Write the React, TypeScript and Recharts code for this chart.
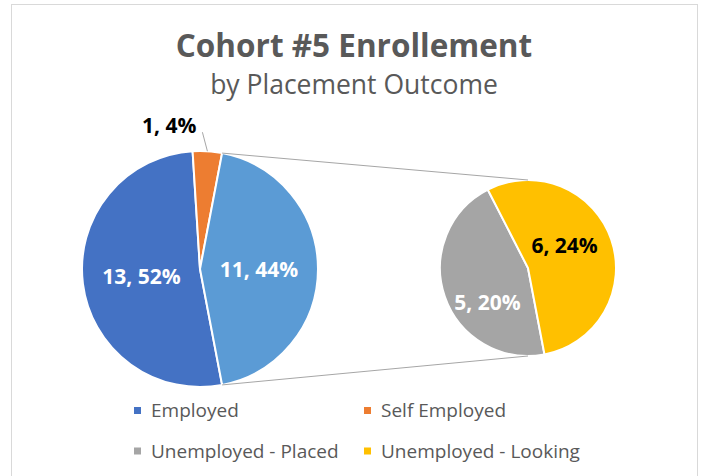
import React from "react";
import { PieChart, Pie, Cell } from "recharts";

const TITLE = "Cohort #5 Enrollement";
const SUBTITLE = "by Placement Outcome";

const MAIN_NAMES = ["Employed", "Self Employed", "Other"];
const MAIN_VALUES = [13, 1, 11];
const MAIN_COLORS = ["#4472C4", "#ED7D31", "#5B9BD5"];
const MAIN_LABEL_INSIDE = [true, false, true];
const MAIN_LABEL_COLORS = ["#FFFFFF", "#000000", "#FFFFFF"];

const SUB_NAMES = ["Unemployed - Placed", "Unemployed - Looking"];
const SUB_VALUES = [5, 6];
const SUB_COLORS = ["#A5A5A5", "#FFC000"];
const SUB_LABEL_COLORS = ["#FFFFFF", "#000000"];
const SUB_LABEL_NUDGE = [
  [1, 20],
  [-5, -9],
];

const LEGEND_NAMES = ["Employed", "Self Employed", "Unemployed - Placed", "Unemployed - Looking"];
const LEGEND_COLORS = ["#4472C4", "#ED7D31", "#A5A5A5", "#FFC000"];

const TOTAL = MAIN_VALUES.reduce((a, b) => a + b, 0);
const mainData = MAIN_NAMES.map((name, i) => ({ name, value: MAIN_VALUES[i] }));
const subData = SUB_NAMES.map((name, i) => ({ name, value: SUB_VALUES[i] }));

const W = 701;
const H = 476;
const MAIN_CX = 200;
const MAIN_CY = 269;
const MAIN_R = 118;
const SUB_CX = 528;
const SUB_CY = 268;
const SUB_R = 88;
const START_ANGLE = -79.2;
const END_ANGLE = -439.2;

const FONT = "'Open Sans', sans-serif";
const TEXT_GREY = "#595959";
const LINE_GREY = "#A6A6A6";
const RAD = Math.PI / 180;

const polar = (cx: number, cy: number, r: number, a: number) => ({
  x: cx + r * Math.cos(-a * RAD),
  y: cy + r * Math.sin(-a * RAD),
});

const pctText = (v: number) => `${v}, ${Math.round((v / TOTAL) * 100)}%`;

const renderMainLabel = (p: any) => {
  const { cx, cy, midAngle, outerRadius, index, value, percent } = p;
  const text = pctText(value);
  const parts: any[] = [];
  if (MAIN_LABEL_INSIDE[index]) {
    const c = polar(cx, cy, outerRadius * 0.5, midAngle);
    parts.push(
      <text
        key="t"
        x={c.x}
        y={c.y}
        textAnchor="middle"
        dominantBaseline="central"
        fill={MAIN_LABEL_COLORS[index]}
        style={{ fontFamily: FONT, fontSize: 21, fontWeight: 700 }}
      >
        {text}
      </text>
    );
  } else {
    const e = polar(cx, cy, outerRadius, midAngle);
    const l = { x: e.x - 5, y: e.y - 19 };
    parts.push(<line key="l" x1={e.x} y1={e.y} x2={l.x} y2={l.y} stroke={LINE_GREY} strokeWidth={1} />);
    parts.push(
      <text
        key="t"
        x={l.x - 6}
        y={l.y - 7}
        textAnchor="end"
        dominantBaseline="central"
        fill={MAIN_LABEL_COLORS[index]}
        style={{ fontFamily: FONT, fontSize: 21, fontWeight: 700 }}
      >
        {text}
      </text>
    );
  }
  if (index === MAIN_NAMES.length - 1) {
    const half = percent * 180;
    const top = polar(cx, cy, outerRadius, midAngle + half);
    const bot = polar(cx, cy, outerRadius, midAngle - half);
    parts.push(
      <line key="c1" x1={top.x} y1={top.y} x2={SUB_CX} y2={SUB_CY - SUB_R} stroke={LINE_GREY} strokeWidth={1} />
    );
    parts.push(
      <line key="c2" x1={bot.x} y1={bot.y} x2={SUB_CX} y2={SUB_CY + SUB_R} stroke={LINE_GREY} strokeWidth={1} />
    );
  }
  return <g>{parts}</g>;
};

const renderSubLabel = (p: any) => {
  const { cx, cy, midAngle, outerRadius, index, value } = p;
  const c = polar(cx, cy, outerRadius * 0.5, midAngle);
  const n = SUB_LABEL_NUDGE[index];
  return (
    <text
      x={c.x + n[0]}
      y={c.y + n[1]}
      textAnchor="middle"
      dominantBaseline="central"
      fill={SUB_LABEL_COLORS[index]}
      style={{ fontFamily: FONT, fontSize: 21, fontWeight: 700 }}
    >
      {pctText(value)}
    </text>
  );
};

const LEGEND_POS = [
  { x: 134, y: 417 },
  { x: 364, y: 417 },
  { x: 134, y: 457.5 },
  { x: 364, y: 457.5 },
];

export default function App() {
  return (
    <div
      style={{
        position: "absolute",
        left: 0,
        top: 0,
        width: W,
        height: H,
        background: "#fff",
        overflow: "hidden",
      }}
    >
      <svg width={W} height={H} style={{ position: "absolute", left: 0, top: 0 }}>
        <rect x={11.5} y={4.5} width={686} height={H + 10} fill="#fff" stroke="#D9D9D9" strokeWidth={1} />
        <text
          x={354}
          y={56.5}
          textAnchor="middle"
          fill={TEXT_GREY}
          style={{ fontFamily: FONT, fontSize: 31.5, fontWeight: 700 }}
        >
          {TITLE}
        </text>
        <text x={354} y={94} textAnchor="middle" fill={TEXT_GREY} style={{ fontFamily: FONT, fontSize: 26.5 }}>
          {SUBTITLE}
        </text>
        {LEGEND_NAMES.map((name, i) => (
          <g key={name}>
            <rect x={LEGEND_POS[i].x} y={LEGEND_POS[i].y - 10} width={7} height={7} fill={LEGEND_COLORS[i]} />
            <text
              x={LEGEND_POS[i].x + 17}
              y={LEGEND_POS[i].y}
              fill={TEXT_GREY}
              style={{ fontFamily: FONT, fontSize: 19 }}
            >
              {name}
            </text>
          </g>
        ))}
      </svg>
      <div style={{ position: "absolute", left: 0, top: 0 }}>
        <PieChart width={W} height={H} margin={{ top: 0, right: 0, bottom: 0, left: 0 }}>
          <Pie
            data={mainData}
            dataKey="value"
            nameKey="name"
            cx={MAIN_CX}
            cy={MAIN_CY}
            outerRadius={MAIN_R}
            startAngle={START_ANGLE}
            endAngle={END_ANGLE}
            stroke="#FFFFFF"
            strokeWidth={2}
            label={renderMainLabel}
            labelLine={false}
            isAnimationActive={false}
          >
            {mainData.map((d, i) => (
              <Cell key={d.name} fill={MAIN_COLORS[i]} />
            ))}
          </Pie>
          <Pie
            data={subData}
            dataKey="value"
            nameKey="name"
            cx={SUB_CX}
            cy={SUB_CY}
            outerRadius={SUB_R}
            startAngle={START_ANGLE}
            endAngle={END_ANGLE}
            stroke="#FFFFFF"
            strokeWidth={2}
            label={renderSubLabel}
            labelLine={false}
            isAnimationActive={false}
          >
            {subData.map((d, i) => (
              <Cell key={d.name} fill={SUB_COLORS[i]} />
            ))}
          </Pie>
        </PieChart>
      </div>
    </div>
  );
}
